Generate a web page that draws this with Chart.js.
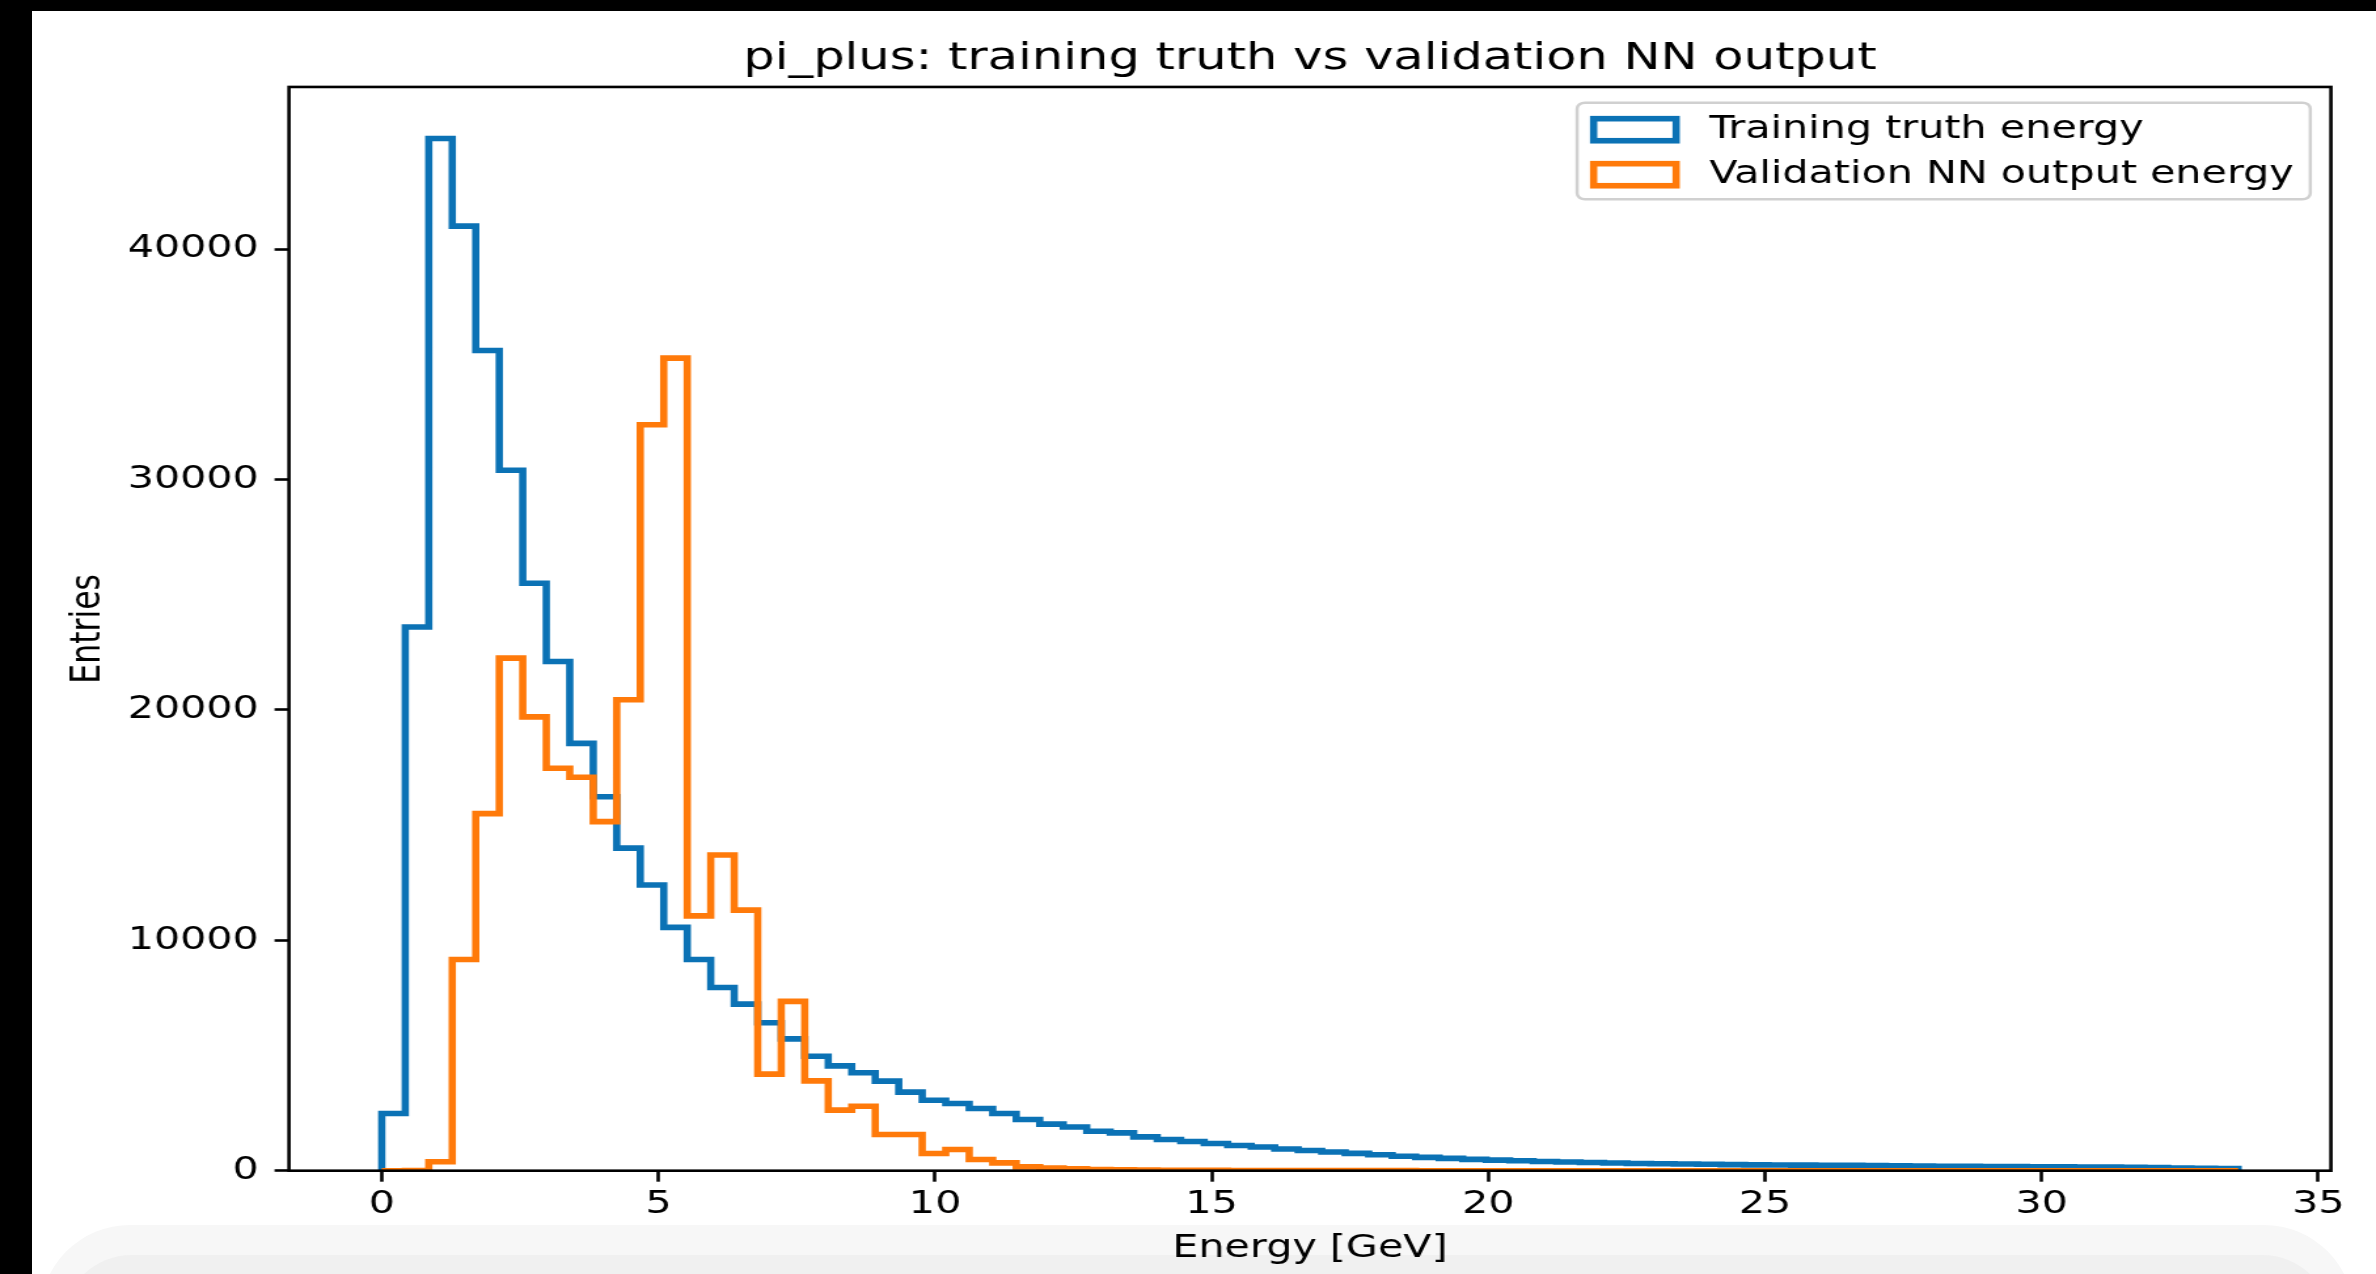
<!DOCTYPE html>
<html>
<head>
<meta charset="utf-8">
<title>pi_plus: training truth vs validation NN output</title>
<script src="https://cdn.jsdelivr.net/npm/chart.js@4.4.1/dist/chart.umd.min.js"></script>
<style>
    html, body { margin: 0; padding: 0; background: #000; overflow: hidden; width: 2376px; height: 1274px; }
    #page { position: absolute; left: 32px; top: 11px; width: 2344px; height: 1263px; background: #fff; }
    #band1 { position: absolute; left: 40px; top: 1225px; width: 2314px; height: 140px; border-radius: 90px 90px 0 0; background: #f7f7f7; }
    #band2 { position: absolute; left: 62px; top: 1255px; width: 2270px; height: 120px; border-radius: 70px 70px 0 0; background: #f0f0f0; }
    /* the reference picture is stretched sideways, so the chart is too */
    #wrap { position: absolute; left: 0; top: 0; width: 1814px; height: 1274px; transform: scaleX(1.3098); transform-origin: 0 0; }
</style>
</head>
<body>
<div id="page"></div>
<div id="band1"></div>
<div id="band2"></div>
<div id="wrap"><canvas id="myChart" width="1814" height="1274" style="width:1814px;height:1274px"></canvas></div>
<script>
// histogram binning (np.linspace(0, max, 80) -> 79 bins)
var energyMin = 0;
var energyMax = 33.55;
var nBins = 79;

// entries per bin
var trainingTruth = [
    2480, 23600, 44800, 41000, 35600, 30400, 25500, 22100, 18550, 16230,
    14000, 12400, 10560, 9170, 7950, 7230, 6420, 5720, 4970, 4550,
    4250, 3890, 3410, 3060, 2920, 2700, 2480, 2220, 2020, 1900,
    1715, 1640, 1470, 1355, 1270, 1180, 1095, 1030, 945, 880,
    810, 750, 690, 630, 580, 535, 490, 460, 430, 400,
    380, 356, 335, 313, 300, 290, 278, 265, 255, 248,
    242, 236, 230, 222, 215, 200, 192, 186, 180, 175,
    170, 165, 160, 155, 150, 142, 120, 105, 95
];
var validationNN = [
    0, 10, 390, 9170, 15500, 22250, 19700, 17470, 17080, 15150,
    20440, 32380, 35270, 11060, 13700, 11310, 4190, 7350, 3900, 2630,
    2800, 1570, 1570, 745, 920, 485, 340, 165, 120, 85,
    55, 40, 30, 22, 16, 12, 9, 7, 5, 4,
    3, 3, 2, 2, 1, 1, 1, 1, 0, 0,
    0, 0, 0, 0, 0, 0, 0, 0, 0, 0,
    0, 0, 0, 0, 0, 0, 0, 0, 0, 0,
    0, 0, 0, 0, 0, 0, 0, 0, 0
];

var xTicks = [0, 5, 10, 15, 20, 25, 30, 35];
var yTicks = [0, 10000, 20000, 30000, 40000];
var seriesLabels = ['Training truth energy', 'Validation NN output energy'];
var seriesColors = ['#0b72b5', '#ff7a0a'];

// step outline like histtype='step'
function stepPoints(counts) {
    var pts = [{ x: energyMin, y: 0 }];
    for (var i = 0; i < counts.length; i++) {
        pts.push({ x: energyMin + (energyMax - energyMin) * i / nBins, y: counts[i] });
    }
    pts.push({ x: energyMax, y: counts[counts.length - 1] });
    pts.push({ x: energyMax, y: 0 });
    return pts;
}

// matplotlib style 5% margins
var xSpan = energyMax - energyMin;
var xMin = energyMin - 0.05 * xSpan;
var xMax = energyMax + 0.05 * xSpan;
var yMax = 1.05 * Math.max.apply(null, trainingTruth.concat(validationNN));

var fontFamily = '"DejaVu Sans", sans-serif';
var fs = 31.5;
var lineW = 5.6;

function fixedTicks(values) {
    return function (scale) {
        scale.ticks = values.map(function (v) { return { value: v }; });
    };
}

// frame on top of the steps + matplotlib like legend
var frameAndLegend = {
    id: 'frameAndLegend',
    afterDatasetsDraw: function (chart) {
        var c = chart.ctx, a = chart.chartArea;
        c.save();
        c.strokeStyle = '#000';
        c.lineWidth = 2.6;
        c.strokeRect(a.left, a.top, a.right - a.left, a.bottom - a.top);

        c.font = fs + 'px ' + fontFamily;
        var sets = chart.data.datasets;
        var textW = 0;
        sets.forEach(function (d) { textW = Math.max(textW, c.measureText(d.label).width); });
        var w = 0.4 * fs + 2 * fs + 0.8 * fs + textW + 0.4 * fs;
        var h = 96.6;
        var x0 = a.right - 0.5 * fs - w;
        var y0 = a.top + 0.5 * fs;
        c.beginPath();
        c.roundRect(x0, y0, w, h, 6);
        c.fillStyle = 'rgba(255,255,255,0.8)';
        c.fill();
        c.strokeStyle = '#d0d0d0';
        c.lineWidth = 2.5;
        c.stroke();

        sets.forEach(function (d, i) {
            var cy = y0 + 27 + i * 45;
            var hx = x0 + 0.4 * fs;
            c.strokeStyle = d.borderColor;
            c.lineWidth = lineW;
            c.lineJoin = 'miter';
            c.strokeRect(hx, cy - 0.35 * fs, 2 * fs, 0.7 * fs);
            c.fillStyle = '#000';
            c.textBaseline = 'middle';
            c.textAlign = 'left';
            c.fillText(d.label, hx + 2.8 * fs, cy);
        });
        c.restore();
    }
};

var ctx = document.getElementById('myChart').getContext('2d');
var chart = new Chart(ctx, {
    type: 'line',
    data: {
        datasets: [{
            label: seriesLabels[0],
            data: stepPoints(trainingTruth),
            borderColor: seriesColors[0],
            backgroundColor: '#fff',
            order: 1
        }, {
            label: seriesLabels[1],
            data: stepPoints(validationNN),
            borderColor: seriesColors[1],
            backgroundColor: '#fff',
            order: 0
        }]
    },
    options: {
        responsive: false,
        animation: false,
        devicePixelRatio: 1,
        datasets: {
            line: {
                stepped: 'before',
                borderWidth: lineW,
                pointRadius: 0,
                fill: false,
                tension: 0,
                borderJoinStyle: 'miter',
                borderCapStyle: 'butt'
            }
        },
        layout: { padding: { left: 0, right: 34.4, top: 0, bottom: 0 } },
        plugins: {
            legend: { display: false },
            tooltip: { enabled: false },
            title: {
                display: true,
                fullSize: false,
                text: 'pi_plus: training truth vs validation NN output',
                color: '#000',
                font: { family: fontFamily, size: 37.8, weight: 'normal', lineHeight: 1.2 },
                padding: { top: 36, bottom: 5.6 }
            }
        },
        scales: {
            x: {
                type: 'linear',
                min: xMin,
                max: xMax,
                afterBuildTicks: fixedTicks(xTicks),
                ticks: {
                    autoSkip: false,
                    maxRotation: 0,
                    color: '#000',
                    padding: 4.5,
                    font: { family: fontFamily, size: fs, lineHeight: 1.2 },
                    callback: function (v) { return String(v); }
                },
                grid: { drawOnChartArea: false, drawTicks: true, tickLength: 11, tickWidth: 2.6, tickColor: '#000' },
                border: { display: false },
                title: {
                    display: true,
                    text: 'Energy [GeV]',
                    color: '#000',
                    font: { family: fontFamily, size: fs, lineHeight: 1.2 },
                    padding: { top: 0, bottom: 6.6 }
                },
                afterFit: function (s) { s.height = 103.3; }
            },
            y: {
                type: 'linear',
                min: 0,
                max: yMax,
                afterBuildTicks: fixedTicks(yTicks),
                ticks: {
                    autoSkip: false,
                    color: '#000',
                    padding: 12,
                    font: { family: fontFamily, size: fs, lineHeight: 1.2 },
                    callback: function (v) { return String(v); }
                },
                grid: { drawOnChartArea: false, drawTicks: true, tickLength: 11, tickWidth: 2.6, tickColor: '#000' },
                border: { display: false },
                title: {
                    display: true,
                    text: 'Entries',
                    color: '#000',
                    font: { family: fontFamily, size: fs, lineHeight: 1.2 },
                    padding: { top: 49, bottom: 0 }
                },
                afterFit: function (s) { s.width = 220.6; }
            }
        }
    },
    plugins: [frameAndLegend]
});
</script>
</body>
</html>
